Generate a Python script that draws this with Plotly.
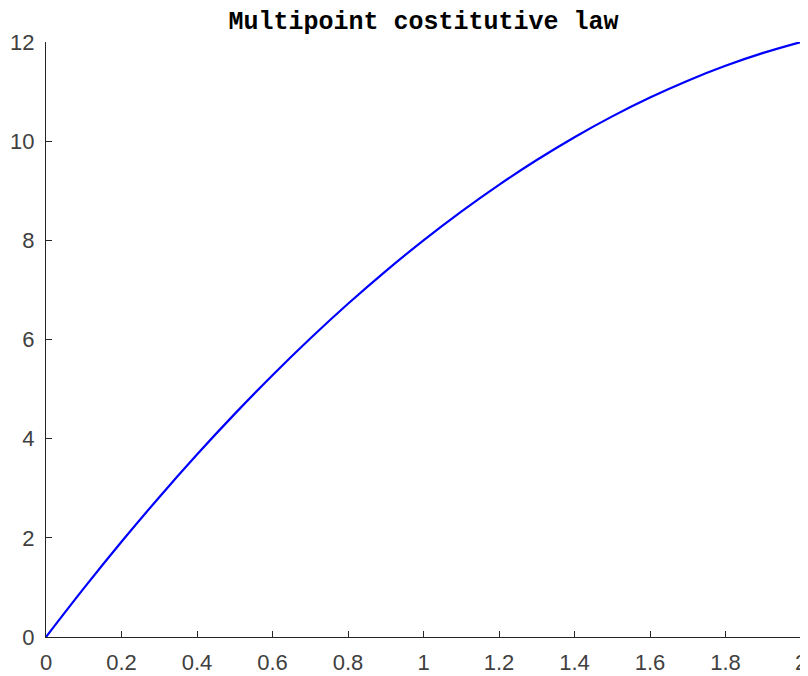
import plotly.graph_objects as go

strain = [0.0, 0.1, 0.2, 0.3, 0.4, 0.5, 0.6, 0.7, 0.8, 0.9, 1.0,
          1.1, 1.2, 1.3, 1.4, 1.5, 1.6, 1.7, 1.8, 1.9, 2.0]
stress = [0.0, 0.98, 1.92, 2.82, 3.68, 4.5, 5.28, 6.02, 6.72, 7.38, 8.0,
          8.58, 9.12, 9.62, 10.08, 10.5, 10.88, 11.22, 11.52, 11.78, 12.0]

x_ticks = [0, 0.2, 0.4, 0.6, 0.8, 1, 1.2, 1.4, 1.6, 1.8, 2]
x_tick_labels = ["0", "0.2", "0.4", "0.6", "0.8", "1", "1.2", "1.4", "1.6", "1.8", "2"]
y_ticks = [0, 2, 4, 6, 8, 10, 12]
y_tick_labels = ["0", "2", "4", "6", "8", "10", "12"]

fig = go.Figure()
fig.add_trace(go.Scatter(x=strain, y=stress, mode="lines",
                         line=dict(color="#0000ff", width=2.2), line_shape="spline",
                         showlegend=False, cliponaxis=False))

axis_common = dict(showgrid=False, zeroline=False, showline=True,
                   linecolor="#262626", linewidth=1, ticks="inside", ticklen=6,
                   tickcolor="#262626",
                   tickfont=dict(family="Liberation Sans", size=22, color="#404040"),
                   mirror=False, automargin=False)

fig.update_layout(
    width=800, height=668,
    margin=dict(l=38, r=7, t=34, b=39, autoexpand=False),
    paper_bgcolor="white", plot_bgcolor="white",
    title=dict(text="<b>Multipoint costitutive law</b>", x=0.5, xanchor="center",
               xref="paper",
               y=1 - 12 / 668, yanchor="middle",
               font=dict(family="Liberation Mono", size=25, color="black")),
    xaxis=dict(range=[0, 2], tickvals=x_ticks, ticktext=x_tick_labels,
               ticklabelstandoff=6, **axis_common),
    yaxis=dict(range=[0, 12], tickvals=y_ticks, ticktext=y_tick_labels,
               ticklabelstandoff=6, **axis_common),
)

fig.write_html("out.html")
